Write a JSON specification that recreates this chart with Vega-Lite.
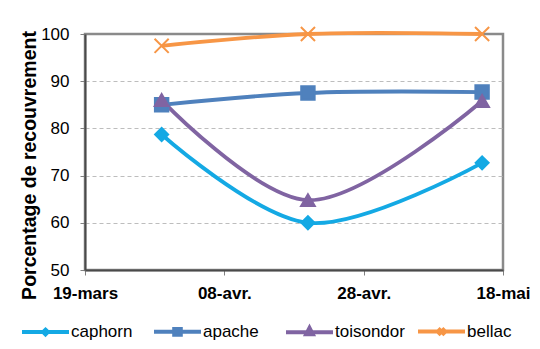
{
  "$schema": "https://vega.github.io/schema/vega-lite/v6.json",
  "width": 418,
  "height": 236,
  "autosize": {"type": "none"},
  "padding": {"left": 85, "top": 34, "right": 37, "bottom": 79},
  "background": "white",
  "config": {
    "font": "Liberation Sans",
    "view": {"stroke": "#8A8A8A", "strokeWidth": 2.5},
    "axis": {"labelFont": "Liberation Sans", "titleFont": "Liberation Sans", "labelColor": "black", "titleColor": "black"}
  },
  "data": {
    "values": [
      {"series": "caphorn", "date": "2012-03-30", "value": 78.7},
      {"series": "caphorn", "date": "2012-04-20", "value": 60.0},
      {"series": "caphorn", "date": "2012-05-15", "value": 72.7},
      {"series": "apache", "date": "2012-03-30", "value": 85.0},
      {"series": "apache", "date": "2012-04-20", "value": 87.5},
      {"series": "apache", "date": "2012-05-15", "value": 87.7},
      {"series": "toisondor", "date": "2012-03-30", "value": 86.0},
      {"series": "toisondor", "date": "2012-04-20", "value": 64.8},
      {"series": "toisondor", "date": "2012-05-15", "value": 85.8},
      {"series": "bellac", "date": "2012-03-30", "value": 97.5},
      {"series": "bellac", "date": "2012-04-20", "value": 100.0},
      {"series": "bellac", "date": "2012-05-15", "value": 100.0}
    ]
  },
  "encoding": {
    "x": {
      "field": "date", "type": "temporal",
      "scale": {"type": "utc", "domain": [{"year": 2012, "month": 3, "date": 19, "utc": true}, {"year": 2012, "month": 5, "date": 18, "utc": true}], "nice": false},
      "axis": {
        "title": null,
        "values": [
          {"year": 2012, "month": 3, "date": 19, "utc": true},
          {"year": 2012, "month": 4, "date": 8, "utc": true},
          {"year": 2012, "month": 4, "date": 28, "utc": true},
          {"year": 2012, "month": 5, "date": 18, "utc": true}
        ],
        "labelExpr": "utcFormat(datum.value, '%d') + '-' + ['janv.','févr.','mars','avr.','mai','juin'][utcmonth(datum.value)]",
        "labelFontSize": 17,
        "labelFontWeight": "bold",
        "labelPadding": 10,
        "tickSize": 5,
        "tickColor": "#808080",
        "domainColor": "#4A4A4A",
        "domainWidth": 2,
        "grid": false,
        "labelFlush": false
      }
    },
    "y": {
      "field": "value", "type": "quantitative",
      "scale": {"domain": [50, 100], "nice": false, "zero": false},
      "axis": {
        "title": "Porcentage de recouvrement",
        "values": [50, 60, 70, 80, 90, 100],
        "labelFontSize": 17,
        "labelPadding": 11,
        "tickSize": 5,
        "tickColor": "#808080",
        "domainColor": "#4A4A4A",
        "domainWidth": 2,
        "grid": true,
        "gridDash": [4, 3],
        "gridColor": {"condition": {"test": "datum.value == 100 || datum.value == 50", "value": "transparent"}, "value": "#BDBDBD"},
        "titleFontSize": 19.5,
        "titleFontWeight": "bold",
        "titleX": -50,
        "titleY": 131,
        "titleBaseline": "alphabetic",
        "titleAlign": "center"
      }
    }
  },
  "layer": [
    {
      "mark": {"type": "line", "interpolate": "catmull-rom", "strokeWidth": 3.8},
      "encoding": {
        "color": {
          "field": "series", "type": "nominal",
          "scale": {"domain": ["caphorn", "apache", "toisondor", "bellac"], "range": ["#14A9E4", "#4F81BD", "#8064A2", "#F79646"]},
          "legend": null
        }
      }
    },
    {
      "mark": {"type": "point", "filled": true, "opacity": 1, "strokeWidth": 2},
      "encoding": {
        "color": {
          "field": "series", "type": "nominal",
          "scale": {"domain": ["caphorn", "apache", "toisondor", "bellac"], "range": ["#14A9E4", "#4F81BD", "#8064A2", "#F79646"]},
          "legend": null
        },
        "stroke": {
          "field": "series", "type": "nominal",
          "scale": {"domain": ["caphorn", "apache", "toisondor", "bellac"], "range": ["#14A9E4", "#4F81BD", "#8064A2", "#F79646"]},
          "legend": null
        },
        "shape": {
          "field": "series", "type": "nominal",
          "scale": {"domain": ["caphorn", "apache", "toisondor", "bellac"], "range": ["diamond", "square", "triangle-up", "M-1,-1L1,1M1,-1L-1,1"]},
          "legend": null
        },
        "size": {
          "field": "series", "type": "nominal",
          "scale": {"domain": ["caphorn", "apache", "toisondor", "bellac"], "range": [170, 200, 200, 240]},
          "legend": null
        }
      }
    },
    {
      "transform": [{"filter": "datum.value > 1000"}],
      "mark": {"type": "point", "filled": false, "strokeWidth": 4, "size": 2209, "opacity": 1},
      "encoding": {
        "color": {
          "field": "series", "type": "nominal",
          "scale": {"domain": ["caphorn", "apache", "toisondor", "bellac"], "range": ["#14A9E4", "#4F81BD", "#8064A2", "#F79646"]},
          "legend": {
            "title": null,
            "orient": "none",
            "legendX": -65,
            "legendY": 272,
            "direction": "horizontal",
            "columns": 4,
            "gridAlign": "all",
            "columnPadding": 5,
            "symbolSize": 2209,
            "symbolStrokeWidth": 4,
            "labelFontSize": 17,
            "labelFont": "Liberation Sans",
            "labelColor": "black",
            "labelOffset": 0,
            "symbolOpacity": 1
          }
        },
        "shape": {
          "field": "series", "type": "nominal",
          "scale": {"domain": ["caphorn", "apache", "toisondor", "bellac"], "range": [
            "M-1,0H1M0,-0.1L0.1,0L0,0.1L-0.1,0Z",
            "M-1,0H1M-0.14,-0.12H0.14V0.12H-0.14Z",
            "M-1,0H1M0,-0.18L0.14,0.09H-0.14Z",
            "M-1,0H1M-0.14,-0.14L0.14,0.14M0.14,-0.14L-0.14,0.14"
          ]},
          "legend": {
            "title": null,
            "orient": "none",
            "legendX": -65,
            "legendY": 272,
            "direction": "horizontal",
            "columns": 4,
            "gridAlign": "all",
            "columnPadding": 5,
            "symbolSize": 2209,
            "symbolStrokeWidth": 4,
            "labelFontSize": 17,
            "labelFont": "Liberation Sans",
            "labelColor": "black",
            "labelOffset": 0,
            "symbolOpacity": 1
          }
        }
      }
    }
  ],
  "resolve": {"scale": {"color": "independent", "shape": "independent", "stroke": "independent", "size": "independent"}}
}
